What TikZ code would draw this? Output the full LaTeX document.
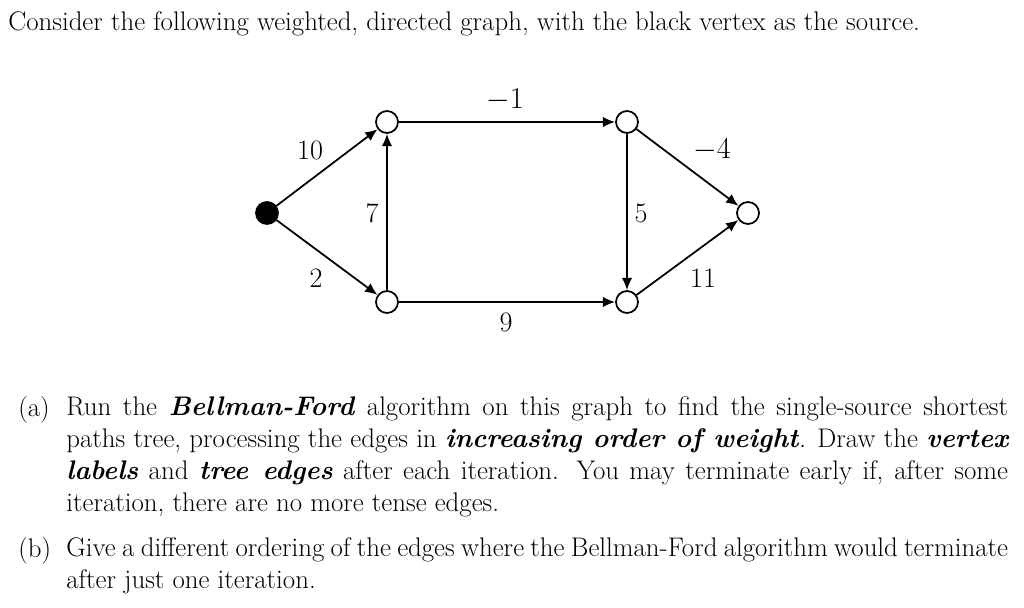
\documentclass[tikz,border=0pt]{standalone}
\usetikzlibrary{arrows.meta}
\begin{document}
\begin{tikzpicture}[x=0.02cm,y=-0.02cm,
  vtx/.style={circle,draw,line width=1pt,minimum size=0.44cm,inner sep=0pt,fill=white},
  src/.style={vtx,fill=black},
  edge/.style={line width=1pt,-{Latex[length=7pt,width=6pt]}},
  wl/.style={font=\fontsize{16}{18}\selectfont},
  para/.style={anchor=north west,inner sep=0pt,text width=18.84cm,align=justify,font=\fontsize{15.3}{18.2}\selectfont}]
\useasboundingbox (0,0) rectangle (1024,608);
\node[anchor=west,inner sep=0pt,font=\fontsize{15.3}{18}\selectfont] (title) at (8,24) {Consider the following weighted, directed graph, with the black vertex as the source.};
\node[src] (s) at (267,213) {};
\node[vtx] (a) at (387,122) {};
\node[vtx] (b) at (387,302) {};
\node[vtx] (c) at (627,122) {};
\node[vtx] (d) at (627,302) {};
\node[vtx] (e) at (748,213) {};
\draw[edge] (s) -- (a);
\draw[edge] (s) -- (b);
\draw[edge] (b) -- (a);
\draw[edge] (a) -- (c);
\draw[edge] (b) -- (d);
\draw[edge] (c) -- (d);
\draw[edge] (c) -- (e);
\draw[edge] (d) -- (e);
\node[wl] (l1) at (505,100) {$-1$};
\node[wl] (l2) at (310,150) {10};
\node[wl] (l3) at (372,213) {7};
\node[wl] (l4) at (316,278) {2};
\node[wl] (l5) at (506,322) {9};
\node[wl] (l6) at (641,213) {5};
\node[wl] (l7) at (712,150) {$-4$};
\node[wl] (l8) at (703,278) {11};
\node[anchor=north west,inner sep=0pt,font=\fontsize{15.3}{18}\selectfont] (pa) at (18,396) {(a)};
\node[para] (ta) at (66,396) {Run the \textbf{\textit{Bellman-Ford}} algorithm on this graph to find the single-source shortest paths tree, processing the edges in \textbf{\textit{increasing order of weight}}. Draw the \textbf{\textit{vertex labels}} and \textbf{\textit{tree edges}} after each iteration. You may terminate early if, after some iteration, there are no more tense edges.};
\node[anchor=north west,inner sep=0pt,font=\fontsize{15.3}{18}\selectfont] (pb) at (18,537) {(b)};
\node[para] (tb) at (66,537) {Give a different ordering of the edges where the Bellman-Ford algorithm would terminate after just one iteration.};
\end{tikzpicture}
\end{document}
